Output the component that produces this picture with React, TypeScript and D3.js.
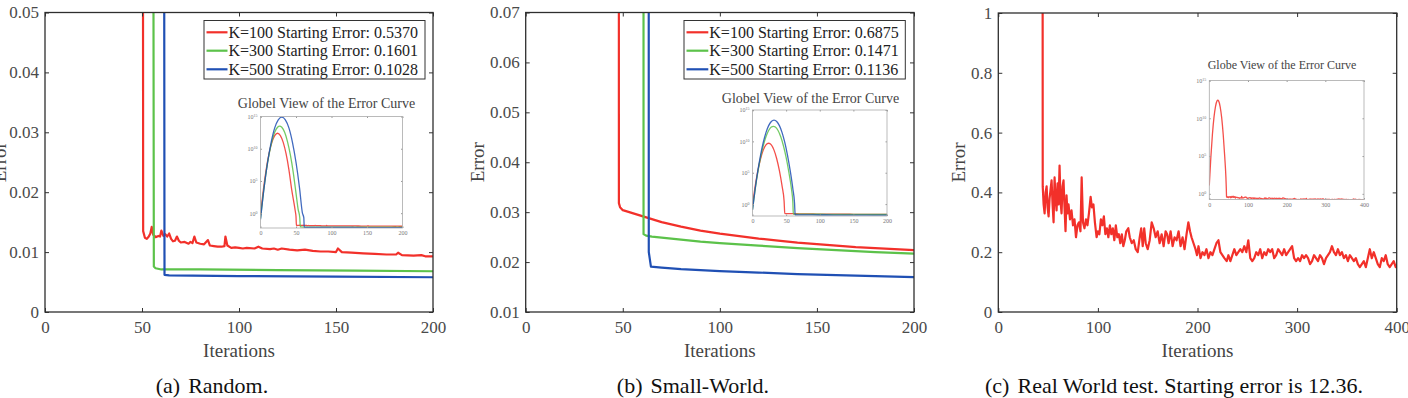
import * as d3 from "d3";
import * as React from "react";

type Pt = [number, number];

// Random graph: error per iteration. The first points run through the blow-up
// phase (seen in the log inset), the tail is what the linear axes show.
const randomK100: Pt[] = [
    [0, 0.537], [4, 4.0e3], [8, 5.9e6], [12, 1.7e9], [16, 9.8e10], [20, 1.1e12], [24, 2.5e12], [28, 1.1e12],
    [32, 9.8e10], [36, 1.7e9], [40, 5.9e6], [44, 4.0e3], [49, 2.0], [50, 0.3], [50.6, 0.0135],
    [51.5, 0.0124], [52.5, 0.0122], [53.5, 0.0126], [54.3, 0.0131], [55, 0.0142], [55.8, 0.0129], [57, 0.0125],
    [58.5, 0.0127], [59.3, 0.0126], [60, 0.0136], [61, 0.0127], [62, 0.0130], [63, 0.0126], [64, 0.0131],
    [65, 0.0122], [66, 0.0118], [67, 0.0119], [68, 0.0126], [69, 0.0119], [70, 0.0116], [72, 0.0117],
    [74, 0.0114], [75, 0.0117], [76, 0.0115], [77, 0.0126], [78, 0.0116], [80, 0.0114], [82, 0.0113],
    [84, 0.0120], [85, 0.0111], [87, 0.0110], [89, 0.0109], [91, 0.0109], [92.5, 0.0110], [93, 0.0126],
    [94, 0.0111], [96, 0.0107], [98, 0.0108], [100, 0.0107], [102, 0.0106], [104, 0.0107], [108, 0.0106],
    [110, 0.0109], [112, 0.0106], [116, 0.0105], [118, 0.0106], [120, 0.0104], [122, 0.0106], [126, 0.0104],
    [130, 0.0103], [134, 0.0104], [138, 0.0102], [142, 0.0101], [146, 0.0101], [150, 0.0100], [151, 0.0106],
    [153, 0.0100], [158, 0.0099], [164, 0.0098], [170, 0.0097], [176, 0.0096], [181, 0.0096], [182, 0.0099],
    [184, 0.0095], [190, 0.0094], [194, 0.0095], [196, 0.0093], [200, 0.0093],
];
const randomK300: Pt[] = [
    [0, 0.1601], [4, 1.3e3], [8, 2.6e6], [12, 1.2e9], [16, 1.3e11], [20, 3.5e12], [24, 2.1e13], [27, 3.2e13],
    [30, 2.1e13], [34, 3.5e12], [38, 1.3e11], [42, 1.2e9], [46, 2.6e6], [50, 1.3e3], [53, 4.0], [55.3, 0.2],
    [56.1, 0.0076], [57, 0.0073], [60, 0.0071], [80, 0.0071], [120, 0.0070], [160, 0.0069], [200, 0.0068],
];
const randomK500: Pt[] = [
    [0, 0.1028], [5, 7.9e3], [10, 7.9e7], [15, 1.0e11], [20, 1.7e13], [25, 3.0e14], [30, 8.0e14], [35, 3.0e14],
    [40, 1.7e13], [45, 1.0e11], [50, 7.9e7], [55, 7.9e3], [59, 1.1], [61, 0.2], [61.6, 0.0062], [64, 0.0061],
    [100, 0.0060], [150, 0.0059], [200, 0.0058],
];

// Small-world graph
const smallWorldK100: Pt[] = [
    [0, 0.6875], [4, 7.1e2], [8, 2.1e5], [12, 1.7e7], [16, 4.0e8], [20, 2.7e9], [24, 5.0e9], [28, 2.7e9],
    [32, 4.0e8], [36, 1.7e7], [40, 2.1e5], [44, 7.1e2], [47, 3.0], [48, 0.0318], [48.6, 0.0310], [50, 0.0304],
    [55, 0.0298], [60, 0.0292], [70, 0.0280], [80, 0.0271], [90, 0.0263], [100, 0.0257], [110, 0.0252],
    [120, 0.0247], [130, 0.0243], [140, 0.0239], [150, 0.0236], [160, 0.0233], [170, 0.0230], [180, 0.0228],
    [190, 0.0226], [200, 0.0224],
];
const smallWorldK300: Pt[] = [
    [0, 0.1471], [4, 2.3e2], [8, 1.3e5], [12, 2.7e7], [16, 2.0e9], [20, 5.4e10], [24, 5.4e11], [28, 1.9e12],
    [31, 2.5e12], [34, 1.9e12], [38, 5.4e11], [42, 5.4e10], [46, 2.0e9], [50, 2.7e7], [54, 1.3e5], [58, 2.3e2],
    [60, 2.0], [60.7, 0.0256], [62, 0.0253], [65, 0.0251], [70, 0.0249], [80, 0.0245], [90, 0.0241],
    [100, 0.0238], [120, 0.0233], [140, 0.0228], [160, 0.0224], [180, 0.0220], [200, 0.0217],
];
const smallWorldK500: Pt[] = [
    [0, 0.1136], [4, 2.8e2], [8, 2.3e5], [12, 6.5e7], [16, 6.7e9], [20, 2.5e11], [24, 3.2e12], [28, 1.5e13],
    [32, 2.5e13], [36, 1.5e13], [40, 3.2e12], [44, 2.5e11], [48, 6.7e9], [52, 6.5e7], [56, 2.3e5], [60, 2.8e2],
    [62.5, 1.5], [63.4, 0.022], [64.5, 0.0191], [70, 0.0189], [80, 0.0186], [100, 0.0182], [120, 0.0179],
    [140, 0.0176], [160, 0.0174], [180, 0.0172], [200, 0.0170],
];

// Real world network, starting error 12.36
const realWorld: Pt[] = [
    [0, 12.36], [4, 6.9e4], [8, 6.6e7], [12, 1.2e10], [16, 3.6e11], [20, 2.0e12], [22, 2.5e12], [24, 2.0e12],
    [28, 3.6e11], [32, 1.2e10], [36, 6.6e7], [40, 6.9e4], [43, 1.3e2], [44, 5.0], [44.6, 0.42],
    [45.5, 0.36], [46.5, 0.33], [47.5, 0.40], [48.5, 0.42], [49.5, 0.35], [50.5, 0.32], [51.5, 0.38],
    [52.5, 0.41], [53.5, 0.44], [54.5, 0.36], [55.5, 0.30], [56.5, 0.45], [57.5, 0.38], [58.5, 0.34],
    [59.5, 0.43], [60.5, 0.36], [61.5, 0.49], [62.5, 0.37], [63.5, 0.33], [64.5, 0.42], [65.5, 0.44],
    [66.5, 0.35], [67.5, 0.27], [68.5, 0.39], [69.5, 0.33], [70.5, 0.36], [72, 0.31], [73.5, 0.34],
    [75, 0.29], [76.5, 0.31], [78, 0.25], [79.5, 0.29], [81, 0.30], [82.5, 0.27], [83.7, 0.45], [85, 0.30],
    [86.5, 0.28], [88, 0.31], [89.5, 0.29], [91, 0.33], [92.7, 0.385], [94, 0.35], [95.5, 0.36], [97, 0.30],
    [98.7, 0.25], [100, 0.27], [101.5, 0.26], [103, 0.31], [104.5, 0.29], [106, 0.32], [107.5, 0.26],
    [109, 0.28], [110.5, 0.25], [112, 0.29], [113.5, 0.26], [115, 0.28], [116.5, 0.24], [118, 0.29],
    [119.5, 0.25], [121, 0.26], [122.5, 0.23], [124, 0.26], [125.5, 0.22], [127, 0.24], [128.5, 0.27],
    [130.5, 0.28], [132, 0.25], [134, 0.23], [136, 0.24], [138, 0.21], [140, 0.20], [142, 0.25],
    [143.5, 0.28], [145, 0.22], [146.5, 0.28], [148, 0.23], [150, 0.21], [152, 0.24], [154, 0.30],
    [156, 0.28], [158, 0.25], [160, 0.27], [162, 0.23], [164, 0.26], [166, 0.22], [168, 0.27], [169.5, 0.26],
    [171, 0.23], [173, 0.27], [175, 0.22], [177, 0.25], [179, 0.24], [181, 0.27], [183, 0.22], [185, 0.25],
    [187, 0.21], [189, 0.26], [190.8, 0.30], [192.5, 0.27], [194, 0.25], [196, 0.23], [198, 0.21],
    [199.5, 0.19], [201, 0.22], [203, 0.18], [205, 0.20], [207, 0.19], [209, 0.21], [211, 0.18], [213, 0.20],
    [215, 0.19], [217, 0.21], [219, 0.23], [221, 0.24], [223, 0.20], [225, 0.19], [227, 0.18], [229.3, 0.17],
    [231, 0.19], [233, 0.17], [235, 0.19], [237, 0.21], [239, 0.19], [241, 0.20], [243, 0.21], [245, 0.20],
    [247, 0.22], [249, 0.20], [251, 0.24], [253, 0.18], [255, 0.17], [257, 0.18], [259, 0.20], [261, 0.19],
    [263, 0.21], [265, 0.18], [267, 0.20], [269, 0.19], [271, 0.21], [273, 0.20], [275, 0.21], [277, 0.18],
    [279, 0.19], [281, 0.21], [283, 0.20], [285, 0.19], [287, 0.21], [289, 0.19], [291, 0.20], [293, 0.21],
    [295, 0.22], [297, 0.18], [299, 0.17], [301, 0.18], [303, 0.17], [305, 0.19], [307, 0.18], [309, 0.19],
    [311, 0.18], [313, 0.16], [315, 0.17], [317, 0.19], [319, 0.18], [321, 0.17], [323, 0.19], [325, 0.18],
    [327, 0.16], [329, 0.18], [331, 0.19], [333, 0.20], [335, 0.22], [337, 0.20], [339, 0.19], [341, 0.21],
    [343, 0.19], [345, 0.20], [347, 0.18], [349, 0.19], [351, 0.17], [353, 0.19], [355, 0.18], [357, 0.17],
    [359, 0.18], [361, 0.16], [363, 0.15], [365, 0.16], [367, 0.17], [369, 0.15], [371, 0.18], [373, 0.21],
    [375, 0.18], [377, 0.20], [379, 0.18], [381, 0.16], [383, 0.15], [385, 0.18], [387, 0.17], [389, 0.19],
    [391, 0.16], [393, 0.15], [395, 0.16], [397, 0.17], [399, 0.15], [400, 0.16],
];

const randomLegend = ["K=100 Starting Error: 0.5370", "K=300 Starting Error: 0.1601", "K=500 Strating Error: 0.1028"];
const smallWorldLegend = ["K=100 Starting Error: 0.6875", "K=300 Starting Error: 0.1471", "K=500 Starting Error: 0.1136"];

const randomYTicks = [0, 0.01, 0.02, 0.03, 0.04, 0.05];
const smallWorldYTicks = [0.01, 0.02, 0.03, 0.04, 0.05, 0.06, 0.07];
const realWorldYTicks = [0, 0.2, 0.4, 0.6, 0.8, 1];
const iterTicks200 = [0, 50, 100, 150, 200];
const iterTicks400 = [0, 100, 200, 300, 400];
const insetExponents = [0, 5, 10, 15];

const colors = ["#f2302a", "#5cc24a", "#2050b4"];
const serif = '"Liberation Serif", "Times New Roman", Times, serif';

interface Box { left: number; right: number; top: number; bottom: number; }

interface Panel {
    key: string;
    plot: Box;
    xMax: number;
    yDomain: [number, number];
    xTicks: number[];
    yTicks: number[];
    series: Pt[][];
    legend?: { labels: string[], box: Box, sample: [number, number] };
    inset: Box & { yMin: number, title: string, titleX: number, titleY: number, titleSize: number, xTicks: number[] };
    yLabelX: number;
    caption: [string, string];
    captionX: number;
}

const panels: Panel[] = [
    {
        key: "a",
        plot: { left: 45, right: 433, top: 12.5, bottom: 312 },
        xMax: 200, yDomain: [0, 0.05], xTicks: iterTicks200, yTicks: randomYTicks,
        series: [randomK100, randomK300, randomK500],
        legend: { labels: randomLegend, box: { left: 204, right: 425, top: 20.5, bottom: 79 }, sample: [206.5, 227.5] },
        inset: {
            left: 260.5, right: 402.5, top: 116.5, bottom: 228, yMin: -2.3,
            title: "Globel View of the Error Curve", titleX: 326.5, titleY: 102.7, titleSize: 14, xTicks: iterTicks200,
        },
        yLabelX: 6, caption: ["(a)", "Random."], captionX: 212,
    },
    {
        key: "b",
        plot: { left: 525.7, right: 914, top: 12.5, bottom: 312 },
        xMax: 200, yDomain: [0.01, 0.07], xTicks: iterTicks200, yTicks: smallWorldYTicks,
        series: [smallWorldK100, smallWorldK300, smallWorldK500],
        legend: { labels: smallWorldLegend, box: { left: 684, right: 905.3, top: 20.5, bottom: 79 }, sample: [686.5, 708.3] },
        inset: {
            left: 752.5, right: 887, top: 110, bottom: 216, yMin: -1.9,
            title: "Globel View of the Error Curve", titleX: 810.5, titleY: 98.3, titleSize: 14, xTicks: iterTicks200,
        },
        yLabelX: 484, caption: ["(b)", "Small-World."], captionX: 693,
    },
    {
        key: "c",
        plot: { left: 998.3, right: 1396.7, top: 13, bottom: 312 },
        xMax: 400, yDomain: [0, 1], xTicks: iterTicks400, yTicks: realWorldYTicks,
        series: [realWorld],
        inset: {
            left: 1209.3, right: 1364, top: 80.5, bottom: 199.5, yMin: -0.75,
            title: "Globe View of the Error Curve", titleX: 1282, titleY: 64.3, titleSize: 12, xTicks: iterTicks400,
        },
        yLabelX: 965, caption: ["(c)", "Real World test. Starting error is 12.36."], captionX: 1174,
    },
];

function styleAxis(g: d3.Selection<SVGGElement, unknown, null, undefined>, size: number, tick: string, label: string) {
    g.attr("font-family", serif).attr("font-size", size);
    g.select(".domain").remove();
    g.selectAll("line").attr("stroke", tick);
    g.selectAll("text")
        .attr("fill", label)
        .style("font-family", serif)
        .style("font-size", `${size}px`);
}

function drawPanel(svg: d3.Selection<SVGSVGElement, unknown, null, undefined>, p: Panel) {
    const { left, right, top, bottom } = p.plot;
    const x = d3.scaleLinear().domain([0, p.xMax]).range([left, right]);
    const y = d3.scaleLinear().domain(p.yDomain).range([bottom, top]);
    const g = svg.append("g");

    g.append("clipPath").attr("id", `clip-${p.key}`)
        .append("rect").attr("x", left).attr("y", top).attr("width", right - left).attr("height", bottom - top);

    // huge values from the blow-up phase are capped so the path stays sane
    const line = d3.line<Pt>().x(d => x(d[0])).y(d => Math.max(y(d[1]), -1e5));
    g.append("g").attr("clip-path", `url(#clip-${p.key})`)
        .selectAll("path").data(p.series).join("path")
        .attr("d", d => line(d))
        .attr("fill", "none")
        .attr("stroke", (_, i) => colors[i])
        .attr("stroke-width", 2.2)
        .attr("stroke-linejoin", "round");

    const tickCol = "#333", textCol = "#4a4a4a";
    g.append("g").attr("transform", `translate(0,${bottom})`)
        .call(d3.axisBottom(x).tickValues(p.xTicks).tickSize(-4).tickPadding(9).tickFormat(d3.format("~g")))
        .call(a => styleAxis(a, 17, tickCol, textCol));
    g.append("g").attr("transform", `translate(0,${top})`)
        .call(d3.axisTop(x).tickValues(p.xTicks).tickSize(-4).tickFormat(() => ""))
        .call(a => styleAxis(a, 17, tickCol, textCol));
    g.append("g").attr("transform", `translate(${left},0)`)
        .call(d3.axisLeft(y).tickValues(p.yTicks).tickSize(-4).tickPadding(6).tickFormat(d3.format("~g")))
        .call(a => styleAxis(a, 17, tickCol, textCol));
    g.append("g").attr("transform", `translate(${right},0)`)
        .call(d3.axisRight(y).tickValues(p.yTicks).tickSize(-4).tickFormat(() => ""))
        .call(a => styleAxis(a, 17, tickCol, textCol));
    g.append("rect")
        .attr("x", left).attr("y", top).attr("width", right - left).attr("height", bottom - top)
        .attr("fill", "none").attr("stroke", "#2e2e2e").attr("stroke-width", 1.3);

    // legend
    if (p.legend) {
        const lg = p.legend;
        const rows = [32.3, 50.7, 69.3];
        g.append("rect")
            .attr("x", lg.box.left).attr("y", lg.box.top)
            .attr("width", lg.box.right - lg.box.left).attr("height", lg.box.bottom - lg.box.top)
            .attr("fill", "#fff").attr("stroke", "#333").attr("stroke-width", 1);
        const item = g.append("g").selectAll("g").data(lg.labels).join("g")
            .attr("transform", (_, i) => `translate(0,${rows[i]})`);
        item.append("line")
            .attr("x1", lg.sample[0]).attr("x2", lg.sample[1])
            .attr("stroke", (_, i) => colors[i]).attr("stroke-width", 2.2);
        item.append("text")
            .attr("x", lg.sample[1] + 1).attr("dy", "0.35em")
            .attr("font-family", serif).attr("font-size", 16).attr("fill", "#222")
            .text(d => d);
    }

    // inset: whole run on a log axis
    const ins = p.inset;
    const ix = d3.scaleLinear().domain([0, p.xMax]).range([ins.left, ins.right]);
    const iy = d3.scaleLog().domain([Math.pow(10, ins.yMin), 1e15]).range([ins.bottom, ins.top]);
    const ig = g.append("g");
    ig.append("rect")
        .attr("x", ins.left).attr("y", ins.top).attr("width", ins.right - ins.left).attr("height", ins.bottom - ins.top)
        .attr("fill", "#fff");
    ig.append("clipPath").attr("id", `clip-${p.key}-inset`)
        .append("rect").attr("x", ins.left).attr("y", ins.top)
        .attr("width", ins.right - ins.left).attr("height", ins.bottom - ins.top);
    const iline = d3.line<Pt>().x(d => ix(d[0])).y(d => iy(d[1])).curve(d3.curveMonotoneX);
    ig.append("g").attr("clip-path", `url(#clip-${p.key}-inset)`)
        .selectAll("path").data(p.series).join("path")
        .attr("d", d => iline(d))
        .attr("fill", "none")
        .attr("stroke", (_, i) => colors[i])
        .attr("stroke-width", 1.3)
        .attr("opacity", 0.85);

    const logTicks = insetExponents.map(e => Math.pow(10, e));
    ig.append("g").attr("transform", `translate(0,${ins.bottom})`)
        .call(d3.axisBottom(ix).tickValues(ins.xTicks).tickSize(-1.5).tickPadding(3).tickFormat(d3.format("~g")))
        .call(a => styleAxis(a, 6, "#999", "#777"));
    ig.append("g").attr("transform", `translate(0,${ins.top})`)
        .call(d3.axisTop(ix).tickValues(ins.xTicks).tickSize(-1.5).tickFormat(() => ""))
        .call(a => styleAxis(a, 6, "#999", "#777"));
    ig.append("g").attr("transform", `translate(${ins.left},0)`)
        .call(d3.axisLeft(iy).tickValues(logTicks).tickSize(-1.5).tickPadding(3).tickFormat(() => ""))
        .call(a => styleAxis(a, 6, "#999", "#777"))
        .call(a => a.selectAll<SVGTextElement, number>("text").each(function (v) {
            const t = d3.select(this);
            t.append("tspan").text("10");
            t.append("tspan").attr("dy", "-0.5em").style("font-size", "4px").text(String(Math.round(Math.log10(v))));
        }));
    ig.append("g").attr("transform", `translate(${ins.right},0)`)
        .call(d3.axisRight(iy).tickValues(logTicks).tickSize(-1.5).tickFormat(() => ""))
        .call(a => styleAxis(a, 6, "#999", "#777"));
    ig.append("rect")
        .attr("x", ins.left).attr("y", ins.top).attr("width", ins.right - ins.left).attr("height", ins.bottom - ins.top)
        .attr("fill", "none").attr("stroke", "#aaa").attr("stroke-width", 0.8);
    ig.append("text")
        .attr("x", ins.titleX).attr("y", ins.titleY).attr("dy", "0.35em")
        .attr("text-anchor", "middle").attr("font-family", serif).attr("font-size", ins.titleSize).attr("fill", "#444")
        .text(ins.title);

    // axis titles and caption
    g.append("text")
        .attr("x", (left + right) / 2).attr("y", 357)
        .attr("text-anchor", "middle").attr("font-family", serif).attr("font-size", 19).attr("fill", "#444")
        .text("Iterations");
    g.append("text")
        .attr("transform", `translate(${p.yLabelX},${(top + bottom) / 2}) rotate(-90)`)
        .attr("text-anchor", "middle").attr("font-family", serif).attr("font-size", 19).attr("fill", "#444")
        .text("Error");
    const cap = g.append("text")
        .attr("x", p.captionX).attr("y", 393)
        .attr("text-anchor", "middle").attr("font-family", serif).attr("font-size", 22).attr("fill", "#111");
    cap.append("tspan").text(p.caption[0]);
    cap.append("tspan").attr("dx", 8).text(p.caption[1]);
}

export default class App extends React.Component<{}, {}> {
    mountRef: HTMLDivElement;

    componentDidMount() {
        document.body.style.margin = "0";
        const root = d3.select(this.mountRef);
        root.selectAll("*").remove();
        const svg = root.append("svg")
            .attr("width", 1408)
            .attr("height", 398)
            .style("display", "block")
            .style("background", "#fff");
        panels.forEach(p => drawPanel(svg, p));
    }

    render() {
        return <div style={{ width: 1408, height: 398 }} ref={ref => { this.mountRef = ref!; }} />;
    }
}
